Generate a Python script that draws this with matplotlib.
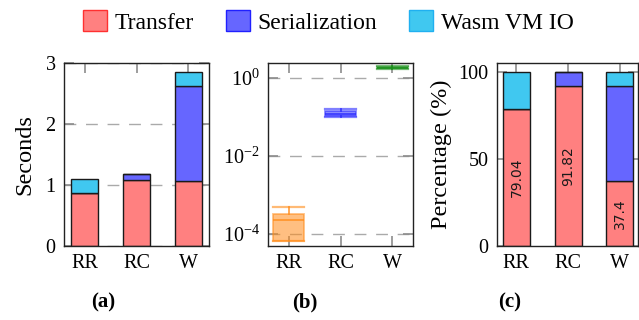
import matplotlib
matplotlib.use("Agg")
import matplotlib.pyplot as plt
from matplotlib.patches import Patch
import matplotlib.ticker as mticker
import numpy as np

plt.rcParams['font.family'] = ['Liberation Serif', 'DejaVu Serif']
plt.rcParams['mathtext.fontset'] = 'custom'
plt.rcParams['mathtext.rm'] = 'Liberation Serif'
plt.rcParams['mathtext.it'] = 'Liberation Serif:italic'
plt.rcParams['mathtext.bf'] = 'Liberation Serif:bold'

# ---------------- data ----------------
categories = ['RR', 'RC', 'W']
series_names = ['Transfer', 'Serialization', 'Wasm VM IO']

transfer_s = [0.87, 1.08, 1.07]
serialization_s = [0.00, 0.10, 1.55]
wasm_io_s = [0.23, 0.00, 0.23]

transfer_pct = [79.04, 91.82, 37.4]
serialization_pct = [0.0, 8.18, 54.9]
wasm_io_pct = [20.96, 0.0, 7.7]
pct_labels = ['79.04', '91.82', '37.4']

box_lo = [6.5e-5, 0.100, 1.76]
box_q1 = [6.5e-5, 0.107, 1.80]
box_med = [2.2e-4, 0.123, 1.88]
box_q3 = [3.2e-4, 0.141, 1.95]
box_hi = [4.7e-4, 0.165, 2.00]

# ---------------- style ----------------
c_transfer = '#FF8080'
c_serial = '#6666FF'
c_wasm = '#40C8F0'
e_transfer = '#FF3030'
e_serial = '#2020FF'
e_wasm = '#20B0F0'
box_colors = ['#FF8C1A', '#2A2AFF', '#1A8F1A']

W, H = 639, 320
fig = plt.figure(figsize=(W / 100, H / 100), dpi=100)

def ax_at(l, r, t, b):
    return fig.add_axes([l / W, 1 - b / H, (r - l) / W, (b - t) / H])

ax_a = ax_at(64, 209, 63, 246)
ax_b = ax_at(268, 413, 63, 246)
ax_c = ax_at(497, 638, 63, 246)

tick_fs = 14.5
grid_kw = dict(color='#AAAAAA', linewidth=1.0, dashes=(8.5, 7))

def style(ax):
    ax.tick_params(direction='in', length=7, width=1.2, color='#8C8C8C',
                   top=True, right=True, labelsize=tick_fs, pad=6)
    ax.tick_params(axis='x', pad=6)
    for s in ax.spines.values():
        s.set_color('#222222')
        s.set_linewidth(1.0)
    ax.set_axisbelow(True)

x = np.arange(len(categories))
bw = 0.52
bar_edge = dict(edgecolor='#1A1A1A', linewidth=1.0)

# (a)
b0 = np.array(transfer_s)
b1 = b0 + np.array(serialization_s)
ax_a.bar(x, transfer_s, bw, color=c_transfer, **bar_edge)
ax_a.bar(x, serialization_s, bw, bottom=b0, color=c_serial, **bar_edge)
ax_a.bar(x, wasm_io_s, bw, bottom=b1, color=c_wasm, **bar_edge)
ax_a.set_xlim(-0.4, 2.4)
ax_a.set_ylim(0, 3)
ax_a.set_yticks([0, 1, 2, 3])
ax_a.set_xticks(x)
ax_a.set_xticklabels(categories)
ax_a.yaxis.grid(True, **grid_kw)
ax_a.set_ylabel('Seconds', fontsize=17.5, labelpad=7)
style(ax_a)

# (b)
stats = []
for i in range(len(categories)):
    stats.append(dict(whislo=box_lo[i], q1=box_q1[i], med=box_med[i],
                      q3=box_q3[i], whishi=box_hi[i], fliers=[]))
for i, st in enumerate(stats):
    col = box_colors[i]
    ax_b.bxp([st], positions=[i], widths=0.59, patch_artist=True,
             showfliers=False, capwidths=0.59,
             boxprops=dict(facecolor=col, alpha=0.55, edgecolor=col, linewidth=1.3),
             medianprops=dict(color=col, linewidth=1.3, alpha=0.8),
             whiskerprops=dict(color=col, linewidth=1.3, alpha=0.8),
             capprops=dict(color=col, linewidth=1.6, alpha=0.6))
ax_b.set_yscale('log')
ax_b.set_ylim(10 ** -4.32, 10 ** 0.39)
ax_b.set_xlim(-0.4, 2.4)
ax_b.set_xticks(x)
ax_b.set_xticklabels(categories)
ax_b.yaxis.set_major_locator(mticker.FixedLocator([1e-4, 1e-2, 1e0]))
ax_b.yaxis.set_minor_locator(mticker.NullLocator())
ax_b.yaxis.set_major_formatter(mticker.LogFormatterSciNotation())
ax_b.yaxis.grid(True, **grid_kw)
style(ax_b)

# (c)
p0 = np.array(transfer_pct)
p1 = p0 + np.array(serialization_pct)
ax_c.bar(x, transfer_pct, bw, color=c_transfer, **bar_edge)
ax_c.bar(x, serialization_pct, bw, bottom=p0, color=c_serial, **bar_edge)
ax_c.bar(x, wasm_io_pct, bw, bottom=p1, color=c_wasm, **bar_edge)
for i, lab in enumerate(pct_labels):
    ax_c.text(x[i], transfer_pct[i] / 2, lab, rotation=90, ha='center', va='center',
              fontsize=10, family='DejaVu Sans', color='#1A1A1A')
ax_c.set_xlim(-0.375, 2.35)
ax_c.set_ylim(0, 105.3)
ax_c.set_yticks([0, 50, 100])
ax_c.set_xticks(x)
ax_c.set_xticklabels(categories)
ax_c.set_ylabel('Percentage (%)', fontsize=17.5, labelpad=5)
style(ax_c)

# subfigure labels
for xp, lab in [(103, '(a)'), (305, '(b)'), (510, '(c)')]:
    fig.text(xp / W, 1 - 302 / H, lab, ha='center', va='center',
             fontsize=15, fontweight='bold')

# legend
handles = [Patch(facecolor=c_transfer, edgecolor=e_transfer, linewidth=1.0),
           Patch(facecolor=c_serial, edgecolor=e_serial, linewidth=1.0),
           Patch(facecolor=c_wasm, edgecolor=e_wasm, linewidth=1.0)]
fig.legend(handles, series_names, loc='center', bbox_to_anchor=(328.5 / W, 1 - 22 / H),
           ncol=3, frameon=False, prop=dict(family=['Liberation Serif'], size=17),
           handlelength=1.0, handleheight=1.0,
           handletextpad=0.35, columnspacing=1.35, borderaxespad=0, borderpad=0)

fig.savefig('out.png', dpi=100)
